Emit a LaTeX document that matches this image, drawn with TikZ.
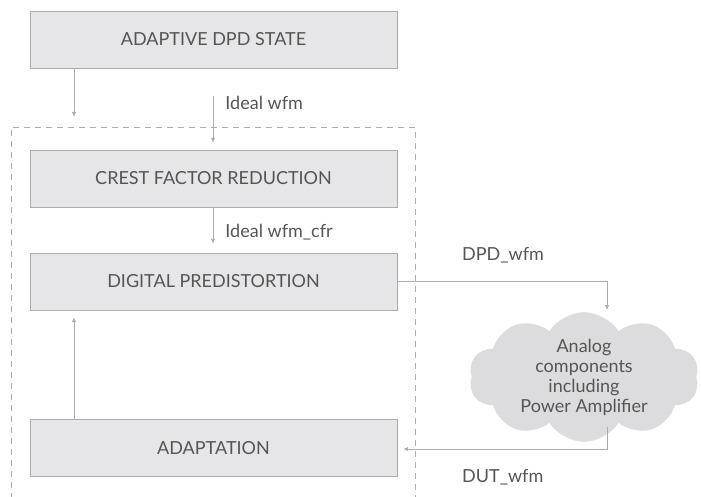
\documentclass[tikz,border=0pt]{standalone}
\usepackage{fontspec}
\setmainfont{Lato}
\usetikzlibrary{positioning,shapes.symbols,arrows.meta}
\definecolor{boxfill}{HTML}{E6E6E8}
\definecolor{boxline}{HTML}{ACACAE}
\definecolor{txt}{HTML}{555555}
\definecolor{cloudfill}{HTML}{DCDCDE}
\tikzset{
  blk/.style  = { draw=boxline, fill=boxfill, minimum width=367pt, minimum height=57pt,
    inner sep=0pt, font=\fontsize{18}{21}\selectfont, text=txt },
  wire/.style = { draw=boxline, line width=0.9pt, -{Latex[length=5pt,width=4.5pt]} },
  lbl/.style  = { anchor=west, inner sep=0pt, font=\fontsize{18}{21}\selectfont, text=txt },
  blob/.style = { cloud, cloud puffs=10, cloud puff arc=115, aspect=2.3, fill=cloudfill,
    draw=none, minimum width=230pt, minimum height=100pt, inner xsep=-12pt, inner ysep=-4pt,
    align=center, font=\fontsize{18}{20}\selectfont, text=txt },
  grp/.style  = { draw=boxline, line width=0.9pt, dash pattern=on 6pt off 5pt }
}
\begin{document}
\begin{tikzpicture}[x=1pt,y=-1pt,node distance=10pt,on grid]
  \useasboundingbox (0,0) rectangle (701,497);
  % dashed frame, open at the bottom
  \draw[grp] (11,510) -- (11,127) -- (415,127) -- (415,510);
  % blocks
  \node[blk] (state) at (213.5,39.5) {ADAPTIVE DPD STATE};
  \node[blk, below=139pt of state] (cfr) {CREST FACTOR REDUCTION};
  \node[blk, below=103pt of cfr] (dpd) {DIGITAL PREDISTORTION};
  \node[blk, below=166.5pt of dpd] (adapt) {ADAPTATION};
  \node[blob] (analog) at (584,377) {Analog\\components\\including\\Power Amplifier};
  % free ends
  \coordinate (s0) at (74,68);
  \coordinate (s1) at (74,117);
  \coordinate (w0) at (213,96);
  \coordinate (w1) at (213,143);
  \coordinate (c0) at (607,310);
  \coordinate (c1) at (607,427);
  \coordinate (c2) at (607,449);
  % connectors
  \path[wire] (s0) -- (s1);
  \path[wire] (w0) -- node[lbl, at start, xshift=12pt, yshift=-7pt] {Ideal wfm} (w1);
  \path[wire, shorten >=9pt] (cfr.south -| w0) -- node[lbl, pos=0.55, xshift=12pt] {Ideal wfm\_cfr} (dpd.north -| w0);
  \path[wire, shorten >=7pt] (adapt.north -| s0) -- (dpd.south -| s0);
  \path[wire] (dpd.east) -| (c0);
  \path[wire, shorten >=6pt] (c1) -- (c2) -- (adapt.east |- c2);
  \node[lbl] (dpdw) at (462,255) {DPD\_wfm};
  \node[lbl] (dutw) at (462,477) {DUT\_wfm};
\end{tikzpicture}
\end{document}
